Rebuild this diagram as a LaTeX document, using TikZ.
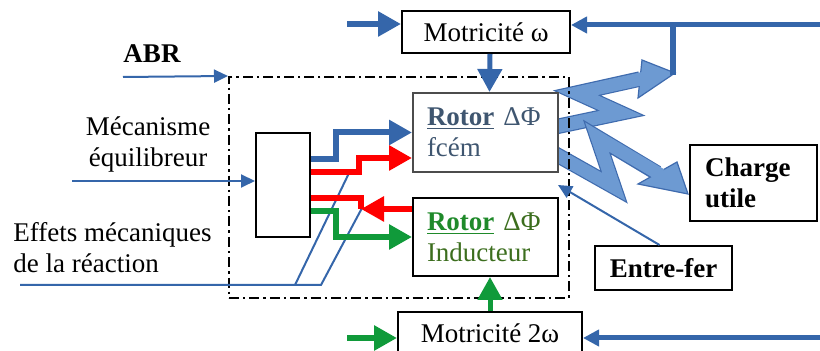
\documentclass[tikz,border=0pt]{standalone}
\usepackage{fontspec}
\setmainfont{Liberation Serif}
\usetikzlibrary{arrows.meta}
\definecolor{line-blue}{HTML}{3566AA}
\definecolor{bolt-fill}{HTML}{6D9AD2}
\definecolor{bolt-edge}{HTML}{3F6BAE}
\definecolor{arr-red}{HTML}{FF0000}
\definecolor{arr-green}{HTML}{109A3A}
\definecolor{slate}{HTML}{3F5670}
\definecolor{ind-green}{HTML}{1F8A2A}
\definecolor{ind-text}{HTML}{3C6E1E}

\begin{document}
\begin{tikzpicture}[x=0.5pt, y=-0.5pt,
        every node/.style={font=\fontsize{13.5}{15.5}\selectfont, inner sep=0pt},
        blockbox/.style={draw, line width=1pt, fill=white},
        fatarrow/.style={line width=3pt, -{Triangle[length=11.5pt,width=12pt]}},
        feedarrow/.style={line-blue, line width=2.5pt, -{Triangle[length=8pt,width=8pt]}},
        thinarrow/.style={line-blue, line width=1pt, -{Triangle[length=7pt,width=6.5pt]}},
        boltedge/.style={bolt-edge, line width=7.7pt, line join=miter},
        boltbody/.style={bolt-fill, line width=6.5pt, line join=miter},
        bolthead/.style={fill=bolt-fill, draw=bolt-edge, line width=0.6pt}]
      \clip (0,0) rectangle (820,351);
      \draw[boltedge] (550,128) -- (621,113) -- (577,93) -- (640,79);
      \draw[bolthead] (642,60) -- (675,73) -- (638,98) -- cycle;
      \draw[boltbody] (550,128) -- (621,113) -- (577,93) -- (645,78);
      \draw[boltedge] (550,151) -- (614,187) -- (597,137) -- (657,173);
      \draw[bolthead] (677,162) -- (688,194) -- (638,184) -- cycle;
      \draw[boltbody] (550,151) -- (614,187) -- (597,137) -- (661,175);
      \node[draw, line width=1pt, dash pattern=on 5pt off 2pt on 1.2pt off 2pt,
        minimum width=170pt, minimum height=110.5pt] (frame) at (399,187.5) {};
      \node[blockbox, minimum width=84pt, minimum height=21pt] (motw) at (486,32) {Motricité ω};
      \node[blockbox, minimum width=92pt, minimum height=21pt] (motw2) at (490,333) {Motricité 2ω};
      \node[blockbox, draw=black!70, text=slate, minimum width=72.5pt, minimum height=39.5pt,
        text width=58.5pt, align=left] (rotf) at (485.5,132.5) {\underline{\textbf{Rotor}} ΔΦ\\fcém};
      \node[blockbox, text=ind-text, minimum width=72.5pt, minimum height=39pt,
        text width=58.5pt, align=left] (rotind) at (485.5,237)
        {\textcolor{ind-green}{\underline{\textbf{Rotor}}} ΔΦ\\Inducteur};
      \node[blockbox, minimum width=27pt, minimum height=52pt] (blk) at (283,185) {};
      \node[blockbox, minimum width=63.5pt, minimum height=38pt, text width=48.5pt,
        align=left, font=\fontsize{13.5}{15.5}\selectfont\bfseries] (charge) at (753.5,183) {Charge\\utile};
      \node[blockbox, minimum width=68.5pt, minimum height=22pt,
        font=\fontsize{13.5}{15.5}\selectfont\bfseries] (entre) at (663.5,268) {Entre-fer};
      \node[font=\fontsize{13.5}{15.5}\selectfont\bfseries] (abr) at (152,54) {ABR};
      \node[align=center] (meca) at (148,144) {Mécanisme\\équilibreur};
      \node[align=left, anchor=west] (effets) at (13,248) {Effets mécaniques\\de la réaction};
      \coordinate (abrin) at (123,77);
      \coordinate (mecain) at (72,181);
      \coordinate (effin) at (20,285);
      \coordinate (effa) at (295,285);
      \coordinate (effb) at (321,285);
      \coordinate (effatop) at (350,171);
      \coordinate (effbtop) at (362,208);
      \coordinate (win) at (347,24);
      \coordinate (wfeed) at (820,25);
      \coordinate (wbranch) at (673,25);
      \coordinate (boltup) at (673,75);
      \coordinate (w2in) at (347,338);
      \coordinate (w2feed) at (820,338);
      \coordinate (gap) at (558,185);
      \draw[thinarrow] (abrin) -- (frame.north west);
      \draw[thinarrow] (mecain) -- (mecain -| blk.west);
      \draw[line-blue, line width=1pt] (effin) -- (effb) -- (effbtop);
      \draw[line-blue, line width=1pt] (effa) -- (effatop);
      \draw[fatarrow, line-blue] (win) -- (win -| motw.west);
      \draw[feedarrow] (wfeed) -- (wfeed -| motw.east);
      \draw[line-blue, line width=3pt] (wbranch) -- (boltup);
      \draw[fatarrow, line-blue, line width=2.5pt] ([xshift=2pt]motw.south) -- ([xshift=2pt]rotf.north);
      \draw[fatarrow, line-blue] ([yshift=13pt]blk.east) -- ++(25,0) |- (rotf.west);
      \draw[fatarrow, arr-red] ([yshift=6.5pt]blk.east) -- ++(48,0) |- ([yshift=-12.75pt]rotf.west);
      \draw[fatarrow, arr-red] ([yshift=14pt]rotind.west) -- ++(-51,0) coordinate (rjoin);
      \draw[arr-red, line width=3pt] ([yshift=-6.5pt]blk.east) -| (rjoin);
      \draw[fatarrow, arr-green] ([yshift=-13pt]blk.east) -- ++(25,0) |- (rotind.west);
      \draw[fatarrow, arr-green, line width=2.5pt] (motw2.north) -- (motw2.north |- rotind.south);
      \draw[fatarrow, arr-green] (w2in) -- (w2in -| motw2.west);
      \draw[feedarrow] (w2feed) -- (w2feed -| motw2.east);
      \draw[thinarrow] ([xshift=-2pt]entre.north) -- (gap);
    \end{tikzpicture}
\end{document}
